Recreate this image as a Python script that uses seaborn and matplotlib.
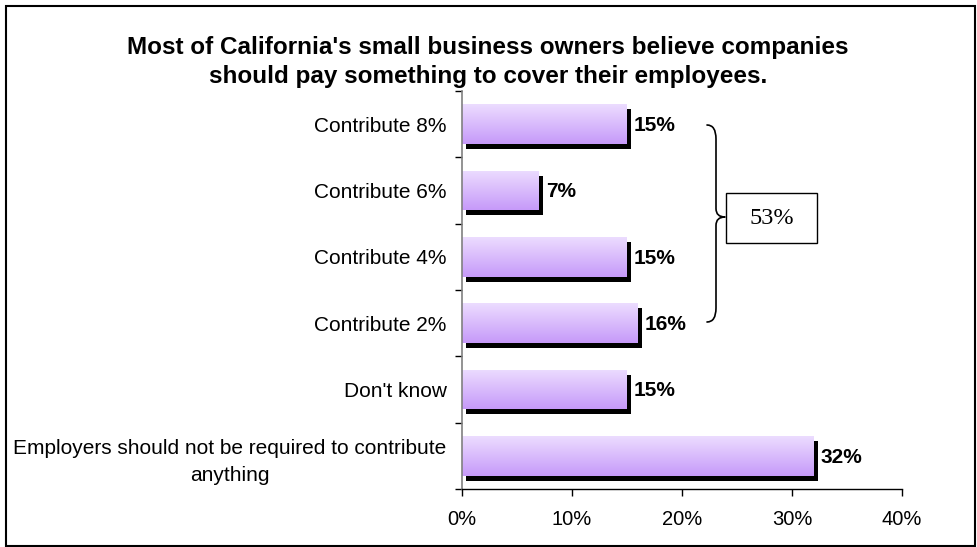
import numpy as np
import pandas as pd
import matplotlib
matplotlib.use("Agg")
import matplotlib.pyplot as plt
import matplotlib.patheffects as pe
from matplotlib.patches import Rectangle, PathPatch
from matplotlib.path import Path
from matplotlib.colors import LinearSegmentedColormap
import seaborn as sns

categories = ["Contribute 8%", "Contribute 6%", "Contribute 4%", "Contribute 2%",
              "Don't know", "Employers should not be required to contribute\nanything"]
values = [15, 7, 15, 16, 15, 32]
value_labels = ["15%", "7%", "15%", "16%", "15%", "32%"]
xticks = [0, 10, 20, 30, 40]
xtick_labels = ["0%", "10%", "20%", "30%", "40%"]
title = "Most of California's small business owners believe companies\nshould pay something to cover their employees."
group_total = "53%"

sns.set_theme(style="white")
plt.rcParams["font.family"] = ["Liberation Sans", "DejaVu Sans"]
for k in ["text.color", "axes.labelcolor", "xtick.color", "ytick.color"]:
    plt.rcParams[k] = "black"

df = pd.DataFrame({"category": categories, "value": values})

fig = plt.figure(figsize=(9.77, 5.47), dpi=100)
W, H = 977, 547
ax = fig.add_axes([462 / W, 1 - 489 / H, (902 - 462) / W, (489 - 91) / H])

sns.barplot(data=df, x="value", y="category", orient="h", color="#d2b0fb",
            width=0.6, ax=ax, saturation=1)

shadow = [pe.SimplePatchShadow(offset=(3.0, -3.6), shadow_rgbFace="black", alpha=1.0),
          pe.Normal()]
grad = np.linspace(0, 1, 64).reshape(-1, 1)
cmap = LinearSegmentedColormap.from_list("lav", ["#ecdcff", "#c69af9"])
for p in ax.patches:
    p.set_path_effects(shadow)
    p.set_edgecolor("none")
    x0, y0 = p.get_x(), p.get_y()
    w, h = p.get_width(), p.get_height()
    im = ax.imshow(grad, cmap=cmap, aspect="auto", extent=(x0, x0 + w, y0 + h, y0),
                   origin="upper", zorder=p.get_zorder() + 0.5, interpolation="bilinear")
    im.set_clip_path(p)

for i, (v, lab) in enumerate(zip(values, value_labels)):
    ax.annotate(lab, xy=(v, i), xytext=(5.0, -1.0), textcoords="offset points",
                ha="left", va="center", fontsize=15, fontweight="bold", color="black")

ax.set_xlim(0, 40)
ax.set_ylim(len(categories) - 0.5, -0.5)
ax.set_xticks(xticks)
ax.set_xticklabels(xtick_labels, fontsize=14.5)
ax.set_yticks(range(len(categories)))
ax.set_yticklabels(categories, fontsize=15, ha="right", multialignment="center")
for lbl in ax.get_yticklabels():
    lbl.set_linespacing(1.55)
ax.tick_params(axis="y", which="major", length=0, pad=11)
ax.set_yticks(np.arange(-0.5, len(categories), 1), minor=True)
ax.tick_params(axis="y", which="minor", length=5, width=1, color="black", direction="out", left=True)
ax.tick_params(axis="x", which="major", length=5, width=1, color="black", direction="out",
               bottom=True, pad=10)
ax.set_xlabel("")
ax.set_ylabel("")
for s in ["top", "right"]:
    ax.spines[s].set_visible(False)
ax.spines["left"].set_color("#808080")
ax.spines["left"].set_linewidth(1.2)
ax.spines["bottom"].set_color("black")
ax.spines["bottom"].set_linewidth(1.0)
ax.grid(False)

fig.text(488 / W, 1 - 62 / H, title, ha="center", va="center", fontsize=17.5,
         fontweight="bold", linespacing=1.3)

def fx(px):
    return px / W
def fy(py):
    return 1 - py / H
x_left, x_mid, x_tip = 707, 716, 725
y_top, y_mid, y_bot = 125, 217, 322
r = 14
verts = [
    (x_left, y_top), (x_mid, y_top), (x_mid, y_top + r),
    (x_mid, y_mid - r * 0.6),
    (x_mid, y_mid), (x_tip, y_mid),
    (x_mid, y_mid), (x_mid, y_mid + r * 0.6),
    (x_mid, y_bot - r),
    (x_mid, y_bot), (x_left, y_bot),
]
codes = [Path.MOVETO, Path.CURVE3, Path.CURVE3, Path.LINETO,
         Path.CURVE3, Path.CURVE3,
         Path.CURVE3, Path.CURVE3, Path.LINETO,
         Path.CURVE3, Path.CURVE3]
verts2 = [(fx(a), fy(b)) for a, b in verts]
brace = PathPatch(Path(verts2, codes), transform=fig.transFigure, fill=False,
                  edgecolor="black", linewidth=1.2, joinstyle="round", capstyle="round")
fig.patches.append(brace)

fig.patches.append(Rectangle((fx(726), fy(243)), (817 - 726) / W, (243 - 193) / H,
                             transform=fig.transFigure, facecolor="white",
                             edgecolor="black", linewidth=1.0))
fig.text(fx(771.5), fy(218), group_total, ha="center", va="center", fontsize=17.5,
         family="Liberation Serif")

fig.patches.append(Rectangle((fx(6), fy(546)), (975 - 6) / W, (546 - 6) / H,
                             transform=fig.transFigure, fill=False,
                             edgecolor="black", linewidth=1.5))

fig.savefig("out.png", dpi=100)
